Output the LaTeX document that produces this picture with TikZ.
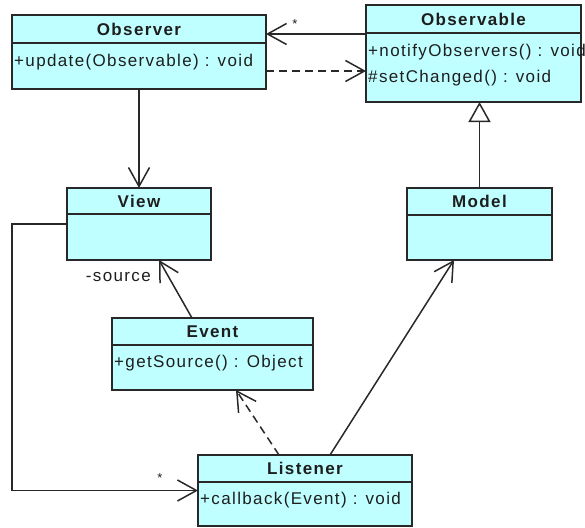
\documentclass[tikz,border=0pt]{standalone}
\usepackage{fontspec}
\setmainfont{Liberation Sans}[LetterSpace=8]
\usetikzlibrary{arrows.meta}
\definecolor{fillc}{RGB}{192,255,255}
\definecolor{linec}{RGB}{40,40,40}
\definecolor{textc}{RGB}{30,30,30}
\tikzset{
  classbox/.style={draw=linec, fill=fillc, line width=1.5pt, inner sep=0pt, outer sep=0pt},
  classtitle/.style={font=\fontsize{17}{20}\selectfont\bfseries, text=textc, inner sep=0pt},
  member/.style={font=\fontsize{17}{20}\selectfont, text=textc, anchor=west, inner sep=0pt},
  lbl/.style={font=\fontsize{17}{20}\selectfont, text=textc, inner sep=0pt},
  starlbl/.style={font=\fontsize{13}{16}\selectfont, text=textc, inner sep=0pt},
  divider/.style={draw=linec, line width=1.5pt},
  assoc/.style={draw=linec, line width=1.5pt, -{Straight Barb[length=19pt,width=21pt]}},
  depend/.style={assoc, dash pattern=on 8pt off 5pt},
  general/.style={draw=linec, line width=1.5pt, -{Triangle[open, length=20pt, width=22pt, fill=white]}}
}
\begin{document}
\begin{tikzpicture}[x=1pt, y=-1pt]
\useasboundingbox (0,0) rectangle (585,527);
% classes
\node[classbox, minimum width=254pt, minimum height=74pt] (observer) at (139,52) {};
\draw[divider] (12,43) -- (266,43);
\node[classtitle] (observerT) at (139,29) {Observer};
\node[member] (observerM) at (14,62) {+update(Observable) : void};

\node[classbox, minimum width=215pt, minimum height=97pt] (observable) at (473.5,53.5) {};
\draw[divider] (366,33) -- (581,33);
\node[classtitle] (observableT) at (473.5,19) {Observable};
\node[member] (observableM1) at (368,52) {+notifyObservers() : void};
\node[member] (observableM2) at (368,78) {\#setChanged() : void};

\node[classbox, minimum width=144pt, minimum height=72pt] (view) at (139,224) {};
\draw[divider] (67,214) -- (211,214);
\node[classtitle] (viewT) at (139,201) {View};

\node[classbox, minimum width=145pt, minimum height=72pt] (model) at (479.5,224) {};
\draw[divider] (407,215) -- (552,215);
\node[classtitle] (modelT) at (479.5,201) {Model};

\node[classbox, minimum width=201pt, minimum height=72pt] (event) at (212.5,354) {};
\draw[divider] (112,345) -- (313,345);
\node[classtitle] (eventT) at (212.5,331.5) {Event};
\node[member] (eventM) at (114,363) {+getSource() : Object};

\node[classbox, minimum width=214pt, minimum height=71pt] (listener) at (305,490.5) {};
\draw[divider] (198,482) -- (412,482);
\node[classtitle] (listenerT) at (305,468) {Listener};
\node[member] (listenerM) at (200,500) {+callback(Event) : void};

% connectors
\draw[assoc] ([yshift=19.5pt]observable.west) -- ([yshift=18pt]observer.east);
\node[starlbl] (star1) at (295,24) {*};
\draw[depend] ([yshift=-19pt]observer.east) -- ([yshift=-17.5pt]observable.west);
\draw[assoc] (observer.south) -- (view.north);
\draw[general] (model.north) -- (model.north |- observable.south);
\draw[assoc] ([xshift=-20.5pt]event.north) -- ([xshift=20pt]view.south);
\node[lbl, anchor=east] (source) at (151,277) {-source};
\draw[depend] ([xshift=-26pt]listener.north) -- ([xshift=23.5pt]event.south);
\draw[assoc] ([xshift=25pt]listener.north) -- ([xshift=-25.5pt]model.south);
\draw[assoc] (view.west) -- ++(-55,0) |- (listener.west);
\node[starlbl] (star2) at (160,478) {*};
\end{tikzpicture}
\end{document}
